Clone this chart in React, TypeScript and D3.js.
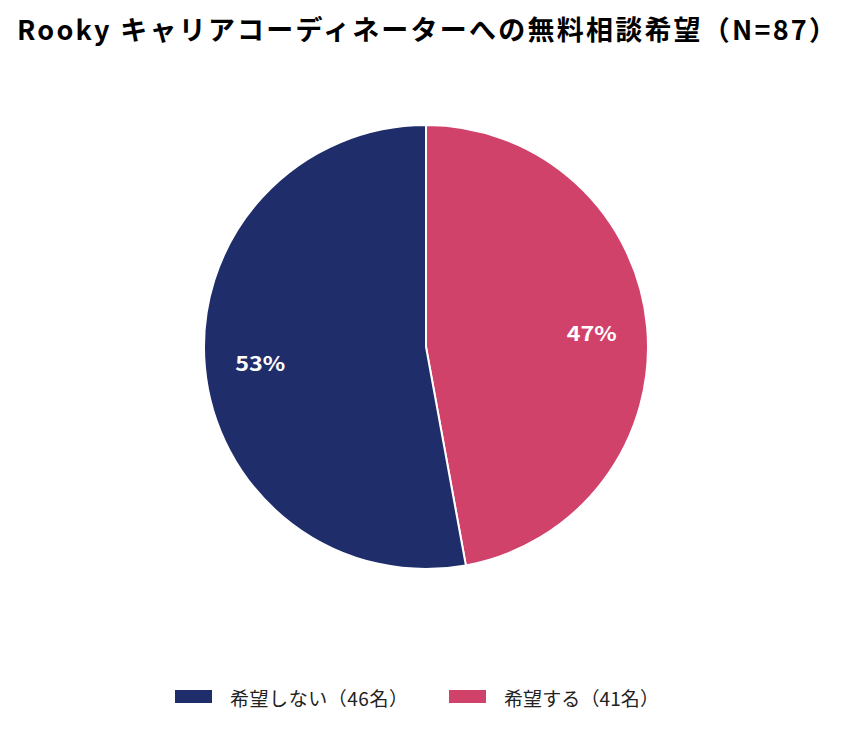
import React from 'react';
import * as d3 from 'd3';

const labels = ['希望する', '希望しない'];
const counts = [41, 46];
const colors = ['#d1426b', '#1f2d6b'];
const legendOrder = [1, 0];

const W = 852, H = 731;
const cx = 426, cy = 347, R = 222;
const font = '"Noto Sans CJK JP", "Open Sans", sans-serif';

const App = () => {
  const total = d3.sum(counts);
  const pie = d3.pie<number>().sort(null).value((d) => d);
  const arcs = pie(counts);
  const arc = d3.arc<d3.PieArcDatum<number>>().innerRadius(0).outerRadius(R);
  const labelArc = d3.arc<d3.PieArcDatum<number>>().innerRadius(R * 0.75).outerRadius(R * 0.75);

  // legend positions / widths
  const legendX = [175, 449];
  const legendTextW = [178, 155];

  return (
    <svg width={W} height={H} style={{ position: 'absolute', left: 0, top: 0 }}>
      <text x={17} y={40} textLength={819} lengthAdjust="spacing" fontFamily={font} fontWeight="bold" fontSize={27} fill="#000">
        Rooky キャリアコーディネーターへの無料相談希望（N=87）
      </text>
      <g transform={`translate(${cx},${cy})`}>
        {arcs.map((a, i) => (
          <path key={i} d={arc(a) || ''} fill={colors[i]} stroke="#fff" strokeWidth={2} />
        ))}
        {arcs.map((a, i) => {
          const [x, y] = labelArc.centroid(a);
          return (
            <text key={'l' + i} x={x - 25} y={y} textLength={50} lengthAdjust="spacingAndGlyphs" dominantBaseline="central"
              fontFamily={font} fontWeight="bold" fontSize={20} fill="#fff">
              {Math.round((counts[i] / total) * 100)}%
            </text>
          );
        })}
      </g>
      {legendOrder.map((idx, j) => {
        const x0 = legendX[j];
        return (
          <g key={'lg' + idx}>
            <rect x={x0} y={690} width={37} height={13} fill={colors[idx]} />
            <text x={x0 + 55} y={697} textLength={legendTextW[j]} lengthAdjust="spacing" dominantBaseline="central"
              fontFamily={font} fontSize={19} fill="#222">
              {labels[idx]}（{counts[idx]}名）
            </text>
          </g>
        );
      })}
    </svg>
  );
};

export default App;
